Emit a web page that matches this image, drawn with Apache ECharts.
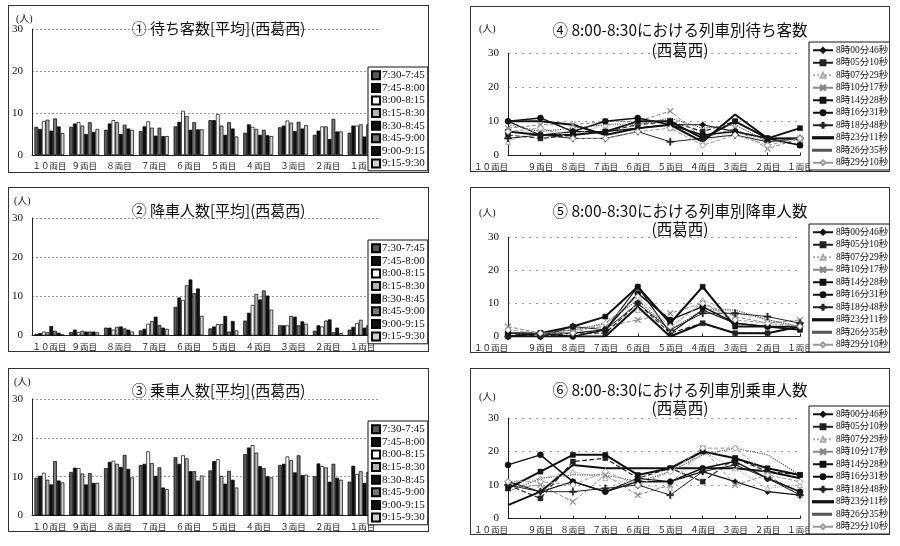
<!DOCTYPE html>
<html><head><meta charset="utf-8">
<script src="https://cdn.jsdelivr.net/npm/echarts@6.0.0/dist/echarts.min.js"></script>
<style>
body{margin:0;background:#fff;width:900px;height:546px;position:relative;overflow:hidden}
.p{position:absolute;border:1px solid #333;box-sizing:border-box;background:#fff}
</style></head><body>
<div id="c1" class="p" style="left:8px;top:5px;width:421px;height:168px"></div>
<div id="c2" class="p" style="left:8px;top:187px;width:421px;height:165px"></div>
<div id="c3" class="p" style="left:8px;top:368px;width:421px;height:164px"></div>
<div id="c4" class="p" style="left:470px;top:6px;width:420px;height:166px"></div>
<div id="c5" class="p" style="left:470px;top:187px;width:420px;height:166px"></div>
<div id="c6" class="p" style="left:470px;top:368px;width:420px;height:167px"></div>
<script>
// ---------- DATA ----------
const cars = ['１０両目','９両目','８両目','７両目','６両目','５両目','４両目','３両目','２両目','１両目'];
const slots = ['7:30-7:45','7:45-8:00','8:00-8:15','8:15-8:30','8:30-8:45','8:45-9:00','9:00-9:15','9:15-9:30'];
const trains = ['8時00分46秒','8時05分10秒','8時07分29秒','8時10分17秒','8時14分28秒','8時16分31秒','8時18分48秒','8時23分11秒','8時26分35秒','8時29分10秒'];
const titles = ['① 待ち客数[平均](西葛西)','② 降車人数[平均](西葛西)','③ 乗車人数[平均](西葛西)',
  '④ 8:00-8:30における列車別待ち客数\n(西葛西)','⑤ 8:00-8:30における列車別降車人数\n(西葛西)','⑥ 8:00-8:30における列車別乗車人数\n(西葛西)'];
const unitLabel = '(人)';

// rows: car (10両目..1両目), cols: time slot
const waitAvgByCar = [
  [6.7,6.2,8.1,8.4,5.8,8.7,6.8,5.2],
  [6.7,7.5,7.8,7.0,5.0,7.8,5.5,6.2],
  [6.0,7.5,8.3,7.8,5.0,7.2,6.3,6.0],
  [5.7,6.8,8.0,6.5,4.6,6.5,4.5,4.5],
  [6.8,7.9,10.5,9.3,6.0,7.8,6.1,6.1],
  [8.3,8.3,9.7,7.0,4.8,7.8,6.3,4.4],
  [5.3,7.3,6.7,6.2,4.8,6.0,4.7,4.5],
  [6.6,7.0,8.2,7.7,5.7,7.9,6.3,7.1],
  [4.8,5.8,6.8,6.8,3.8,8.6,5.6,5.6],
  [5.3,7.0,7.0,7.3,4.4,7.3,5.2,6.6]
];
const alightAvgByCar = [
  [0.4,0.6,1.0,0.8,2.4,1.2,0.7,0.3],
  [0.9,1.5,0.9,1.2,1.0,1.0,1.0,0.8],
  [2.0,2.0,1.5,2.2,2.3,1.8,1.5,1.0],
  [1.3,1.7,3.0,3.7,4.8,2.7,2.0,1.7],
  [7.3,9.7,9.0,12.8,14.3,10.8,12.0,5.0],
  [1.8,2.3,2.9,2.9,5.0,1.0,3.7,1.3],
  [3.8,5.8,7.8,10.6,9.2,11.5,10.2,6.6],
  [2.6,2.6,2.6,5.0,4.8,2.6,3.6,3.0],
  [1.2,2.6,2.3,3.8,4.1,0.8,2.0,0.6],
  [1.5,2.2,3.2,4.0,2.0,2.6,2.1,1.3]
];
const boardAvgByCar = [
  [9.7,10.2,11.0,9.2,8.0,14.0,9.0,8.5],
  [11.2,12.3,12.2,10.8,8.0,10.9,8.4,8.4],
  [12.2,13.8,14.1,13.3,12.5,15.6,12.0,9.8],
  [13.0,13.3,16.5,13.5,10.2,12.4,7.2,6.8],
  [15.0,13.3,15.5,14.7,11.4,11.4,9.0,10.3],
  [11.6,14.0,14.5,10.2,8.2,11.5,9.2,7.2],
  [15.8,17.5,18.1,16.2,12.7,12.2,10.1,9.8],
  [13.0,13.3,15.2,14.3,11.1,15.5,10.4,10.5],
  [10.1,13.4,12.7,12.4,8.7,13.3,9.7,9.2],
  [8.7,12.8,10.7,11.4,8.4,11.2,10.7,8.0]
];
// rows: train, cols: car (10両目..1両目)
const waitByTrain = [
  [10,6,7,7,8,9,9,7,5,5],
  [6,5,6,7,9,10,7,10,5,3],
  [4,8,6,9,10,8,4,7,4,5],
  [8,9,9,10,10,13,5,8,2,5],
  [7,6,6,7,10,10,5,10,5,8],
  [10,11,7,10,11,9,6,7,5,3],
  [5,6,5,5,7,4,5,6,4,5],
  [10,10,9,6,8,9,4,12,5,5],
  [9,7,8,9,9,11,8,9,4,5],
  [7,8,5,5,7,8,3,6,3,5]
];
const alightByTrain = [
  [1,1,1,2,15,1,8,4,3,3],
  [1,0,1,1,10,1,4,1,1,3],
  [1,1,2,3,8,2,11,7,5,3],
  [3,1,2,3,5,7,10,6,4,5],
  [0,1,3,6,15,4,15,3,3,2],
  [1,1,0,2,13,5,9,4,3,3],
  [0,0,3,2,10,2,7,7,6,4],
  [0,0,0,0,9,0,4,1,1,3],
  [1,1,2,4,11,2,8,8,5,3],
  [2,1,1,4,12,3,10,5,4,3]
];
const boardByTrain = [
  [11,8,11,8,12,11,14,11,8,7],
  [10,6,17,18,12,15,11,18,14,13],
  [11,12,14,12,10,9,20,15,9,10],
  [9,10,5,13,7,10,21,10,13,7],
  [9,14,19,19,13,15,20,18,15,13],
  [16,19,11,8,11,11,15,17,12,8],
  [10,8,8,9,10,7,14,16,12,7],
  [4,8,16,15,15,15,15,15,14,12],
  [8,12,13,13,11,14,19,21,19,13],
  [11,11,10,14,10,14,21,21,13,11]
];

// ---------- STYLE ----------
const SERIF = '"Liberation Serif","Noto Sans CJK JP",serif';
const JP = '"Noto Sans CJK JP",sans-serif';
const barColors = ['#5a5a5a','#111','#fff','#b4b4b4','#111','#777','#111','#cfcfcf'];
const XSYM = 'path://M0,1L1,0L5,4L9,0L10,1L6,5L10,9L9,10L5,6L1,10L0,9L4,5Z';
const PLUS = 'path://M4,0H6V4H10V6H6V10H4V6H0V4H4Z';
const SOLID_ICON = 'path://M0,0M0,2.4H20V3.6H0ZM20,6';
const DOT_ICON = 'path://M0,0M0,2.5H2V3.5H0ZM4,2.5H6V3.5H4ZM8,2.5H10V3.5H8ZM12,2.5H14V3.5H12ZM16,2.5H18V3.5H16ZM20,6';
const lineStyles = [
  {color:'#111', symbol:'diamond', size:6, width:1.2, type:'solid'},
  {color:'#222', symbol:'rect', size:5, width:1.2, type:'dashed'},
  {color:'#aaa', symbol:'triangle', size:5, width:1, type:'dotted', hollow:true},
  {color:'#888', symbol:XSYM, size:6, width:1, type:'dashed'},
  {color:'#111', symbol:'rect', size:5, width:2, type:'solid'},
  {color:'#111', symbol:'circle', size:6, width:1.5, type:'solid'},
  {color:'#222', symbol:PLUS, size:7, width:1, type:'solid'},
  {color:'#111', symbol:'none', size:0, width:2, type:'solid', icon:SOLID_ICON},
  {color:'#555', symbol:'none', size:0, width:1.2, type:'dotted', icon:DOT_ICON},
  {color:'#999', symbol:'diamond', size:6, width:1, type:'dashed', hollow:true}
];

function barChart(id, title, byCar, L) {
  const chart = echarts.init(document.getElementById(id), null, {renderer:'canvas'});
  chart.setOption({
    animation:false,
    title:{text:title,left:'center',top:L.titleTop,textStyle:{fontFamily:JP,fontSize:15,fontWeight:'normal',color:'#111'}},
    legend:{orient:'vertical',left:359,top:L.legendTop,itemWidth:8,itemHeight:8,itemGap:0,padding:[2,3,1,3],
      backgroundColor:'#fff',borderColor:'#111',borderWidth:1,icon:'rect',
      textStyle:{fontFamily:SERIF,fontSize:11,color:'#111',lineHeight:12.6,padding:[0,0,0,-3]},data:slots},
    grid:{left:23,top:L.gridTop,width:348,height:L.gridH},
    xAxis:{type:'category',data:cars,axisLine:{lineStyle:{color:'#222'}},axisTick:{show:false},
      axisLabel:{fontFamily:JP,fontSize:8.5,color:'#222',margin:7,interval:0}},
    yAxis:{type:'value',min:0,max:30,interval:10,axisLine:{show:true,lineStyle:{color:'#222'}},
      splitLine:{lineStyle:{color:'#999',type:[2,2]}},axisLabel:{fontFamily:SERIF,fontSize:11,color:'#111',margin:9}},
    graphic:[{type:'text',left:L.unitLeft,top:L.unitTop,style:{text:unitLabel,font:'10px '+SERIF,fill:'#111'}}],
    series: slots.map((s,i)=>({name:s,type:'bar',data:byCar.map(r=>r[i]),barGap:'0%',barCategoryGap:'14%',
      itemStyle:{color:barColors[i],borderColor:'#000',borderWidth:0.7}}))
  });
}

function lineChart(id, title, byTrain, L) {
  const chart = echarts.init(document.getElementById(id), null, {renderer:'canvas'});
  chart.setOption({
    animation:false,
    title:{text:title,left:'center',top:L.titleTop,textStyle:{fontFamily:JP,fontSize:15.5,fontWeight:'normal',color:'#111',lineHeight:L.lh}},
    legend:{orient:'vertical',left:338,top:L.legendTop,itemWidth:20,itemHeight:6,itemGap:0,padding:[2,2,1,3],
      backgroundColor:'#fff',borderColor:'#111',borderWidth:1,
      textStyle:{fontFamily:SERIF,fontSize:9.5,color:'#111',lineHeight:12.5,padding:[0,0,0,-2]},
      data:trains.map((t,i)=>lineStyles[i].icon ? {name:t, icon:lineStyles[i].icon} : {name:t})},
    grid:{left:23,top:L.gridTop,width:306,height:L.gridH},
    xAxis:{type:'category',data:cars,boundaryGap:false,axisLine:{lineStyle:{color:'#222'}},
      axisTick:{show:true,inside:true,length:3,lineStyle:{color:'#222'}},
      axisLabel:{fontFamily:JP,fontSize:8.5,color:'#222',margin:7,interval:0,alignMinLabel:'right'}},
    yAxis:{type:'value',min:0,max:30,interval:10,axisLine:{show:true,lineStyle:{color:'#222'}},
      splitLine:{lineStyle:{color:'#999',type:[2,5]}},axisLabel:{fontFamily:SERIF,fontSize:11,color:'#111',margin:9}},
    graphic:[{type:'text',left:L.unitLeft,top:L.unitTop,style:{text:unitLabel,font:'10px '+SERIF,fill:'#111'}}],
    series: trains.map((t,i)=>{
      const s = lineStyles[i];
      return {name:t,type:'line',data:byTrain[i],symbol:s.symbol,symbolSize:s.size,showSymbol:s.symbol!=='none',
        lineStyle:{color:s.color,width:s.width,type:s.type},
        itemStyle:{color:s.hollow?'#fff':s.color,borderColor:s.color,borderWidth:s.hollow?1:0.5}};
    })
  });
}

barChart('c1', titles[0], waitAvgByCar, {titleTop:10, legendTop:61, gridTop:23, gridH:126, unitLeft:7, unitTop:8});
barChart('c2', titles[1], alightAvgByCar, {titleTop:10, legendTop:52, gridTop:30, gridH:118, unitLeft:5, unitTop:8});
barChart('c3', titles[2], boardAvgByCar, {titleTop:9, legendTop:52, gridTop:30, gridH:117, unitLeft:5, unitTop:8});
lineChart('c4', titles[3], waitByTrain, {titleTop:8, lh:20, legendTop:35, gridTop:46, gridH:104, unitLeft:8, unitTop:17});
lineChart('c5', titles[4], alightByTrain, {titleTop:9, lh:18, legendTop:36, gridTop:49, gridH:101, unitLeft:8, unitTop:20});
lineChart('c6', titles[5], boardByTrain, {titleTop:7, lh:18, legendTop:37, gridTop:49, gridH:102, unitLeft:8, unitTop:23});
</script>
</body></html>
